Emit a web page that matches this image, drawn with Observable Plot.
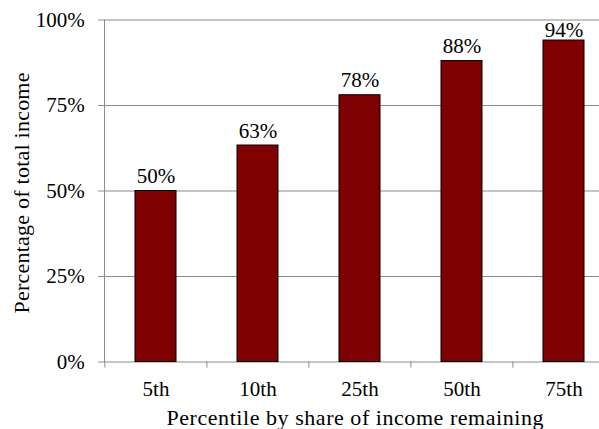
<!DOCTYPE html>
<html><head><meta charset="utf-8">
<script src="https://cdn.jsdelivr.net/npm/d3@7"></script>
<script src="https://cdn.jsdelivr.net/npm/@observablehq/plot@0.6"></script>
<style>
body{margin:0;background:#fff}
</style>
</head><body><div id="chart"></div>
<script>
const categories = ["5th","10th","25th","50th","75th"];
const shares = [50, 63.3, 78, 88, 94];
const yTicks = [0, 25, 50, 75, 100];
const xTitle = "Percentile by share of income remaining";
const yTitle = "Percentage of total income";
const labelCeiling = 92.6;

const data = categories.map((c, i) => ({category: c, share: shares[i]}));
const gray = "#8c8c8c";
const fs = 21;
const fsTitle = 22;

const chart = Plot.plot({
  width: 599, height: 429,
  marginTop: 19.5, marginBottom: 67.5, marginLeft: 104, marginRight: 0,
  style: {fontFamily: "'Liberation Serif', serif", fontSize: fs + "px", color: "#000", background: "#fff", overflow: "hidden"},
  x: {domain: categories, range: [104, 615], paddingInner: 0.6, paddingOuter: 0.3, label: null},
  y: {domain: [0, 100], label: null},
  marks: [
    Plot.ruleY(yTicks, {stroke: gray, strokeWidth: 1, insetLeft: -6}),
    Plot.ruleX(categories, {x: d => d, dx: -51.1, y1: 0, y2: -1.8, stroke: gray}),
    Plot.frame({anchor: "left", stroke: gray}),
    Plot.barY(data, {x: "category", y: "share", fill: "#7f0000", stroke: "#000", strokeWidth: 1}),
    Plot.text(data, {x: "category", y: d => Math.min(d.share, labelCeiling), text: d => Math.round(d.share) + "%", lineAnchor: "middle", dy: -14.7, fontSize: fs, fill: "#000"}),
    Plot.axisY({ticks: yTicks, tickFormat: d => d + "%", tickSize: 0, tickPadding: 19.7, label: null, fontSize: fs}),
    Plot.axisX({tickSize: 0, tickPadding: 18.6, label: null, fontSize: fs}),
    Plot.text([xTitle], {frameAnchor: "bottom", textAnchor: "middle", lineAnchor: "middle", dy: 55.5, dx: 3, fontSize: fsTitle, fill: "#000"}),
    Plot.text([yTitle], {frameAnchor: "left", textAnchor: "middle", lineAnchor: "middle", rotate: -90, dx: -83, dy: 2, fontSize: fsTitle, fill: "#000"})
  ]
});
chart.querySelectorAll("text").forEach(t => {
  if (t.textContent === xTitle) { t.setAttribute("textLength", 377); t.setAttribute("lengthAdjust", "spacing"); }
  if (t.textContent === yTitle) { t.setAttribute("textLength", 241); t.setAttribute("lengthAdjust", "spacing"); }
});
document.getElementById("chart").appendChild(chart);
</script>
</body></html>
